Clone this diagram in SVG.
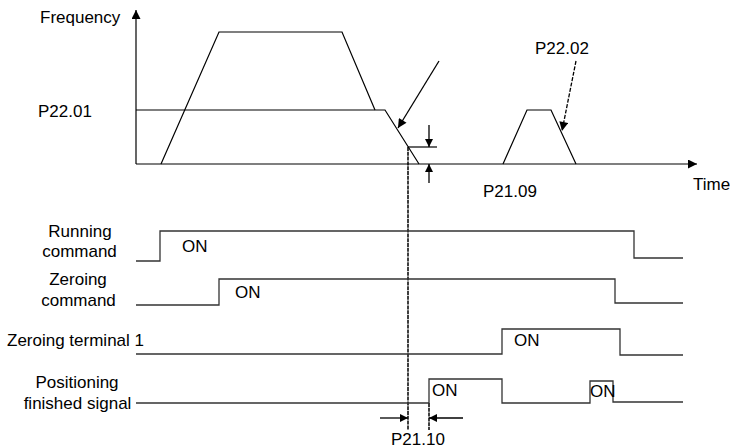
<svg xmlns="http://www.w3.org/2000/svg" width="730" height="448" viewBox="0 0 730 448">
<style>
text{font-family:"Liberation Sans",Arial,sans-serif;font-size:17px;fill:#000}
.ln{fill:none;stroke:#000;stroke-width:1.2}
.sg{fill:none;stroke:#333;stroke-width:1.3}
.dash{fill:none;stroke:#000;stroke-width:1.5;stroke-dasharray:4,0.8}
.arr{fill:none;stroke:#000;stroke-width:1.3}
</style>
<defs>
<marker id="ah" viewBox="0 0 10 10" refX="10" refY="5" markerWidth="12" markerHeight="9" markerUnits="userSpaceOnUse" orient="auto"><path d="M0,0 L10,5 L0,10 z" fill="#000"/></marker>
<marker id="ahs" viewBox="0 0 10 10" refX="10" refY="5" markerWidth="9" markerHeight="8" markerUnits="userSpaceOnUse" orient="auto"><path d="M0,0 L10,5 L0,10 z" fill="#000"/></marker>
</defs>
<rect width="730" height="448" fill="#fff"/>
<g id="axes">
<line class="ln" x1="136" y1="164" x2="136" y2="10" marker-end="url(#ah)"/>
<line class="ln" x1="136" y1="164" x2="697" y2="164" marker-end="url(#ah)"/>
<text x="40" y="23">Frequency</text>
<text x="38" y="117">P22.01</text>
<text x="693" y="190">Time</text>
</g>
<g id="frequency-profile">
<polyline class="ln" points="161,164 219,32 342,32 375,110"/>
<polyline class="ln" points="136,110 385,110 419,164"/>
<polyline class="ln" points="408,147 437,147"/>
<polyline class="ln" points="503,164 527,110 551,110 576,164"/>
</g>
<g id="connectors">
<line class="arr" x1="439" y1="61" x2="398" y2="128" marker-end="url(#ah)"/>
<line class="arr" x1="576" y1="61" x2="562" y2="131" stroke-dasharray="4,1.5" marker-end="url(#ah)"/>
<line class="arr" x1="429" y1="125" x2="429" y2="147" marker-end="url(#ahs)"/>
<line class="arr" x1="429" y1="183" x2="429" y2="164" marker-end="url(#ahs)"/>
<line class="dash" x1="408" y1="147" x2="408" y2="430"/>
<line class="dash" x1="429" y1="403" x2="429" y2="430"/>
<line class="arr" x1="380" y1="418" x2="408" y2="418" marker-end="url(#ahs)"/>
<line class="arr" x1="463" y1="418" x2="429" y2="418" marker-end="url(#ahs)"/>
<text x="535" y="54">P22.02</text>
<text x="483" y="197">P21.09</text>
<text x="391" y="445">P21.10</text>
</g>
<g id="running-command">
<text x="80" y="237" text-anchor="middle">Running</text>
<text x="79.5" y="257" text-anchor="middle">command</text>
<polyline class="sg" points="136,261 160,261 160,231 634,231 634,258 683,258"/>
<text x="182" y="252">ON</text>
</g>
<g id="zeroing-command">
<text x="78" y="285" text-anchor="middle">Zeroing</text>
<text x="78.5" y="306" text-anchor="middle">command</text>
<polyline class="sg" points="136,305 219,305 219,279 615,279 615,303 683,303"/>
<text x="235" y="298">ON</text>
</g>
<g id="zeroing-terminal-1">
<text x="7" y="346">Zeroing terminal 1</text>
<polyline class="sg" points="136,354 502,354 502,329 620,329 620,355 683,355"/>
<text x="514" y="346">ON</text>
</g>
<g id="positioning-finished-signal">
<text x="77" y="388" text-anchor="middle">Positioning</text>
<text x="77.5" y="409" text-anchor="middle">finished signal</text>
<polyline class="sg" points="136,403 429,403 429,379 502,379 502,403 590,403 590,381 613,381 613,402 683,402"/>
<text x="432" y="396">ON</text>
<text x="590" y="397">ON</text>
</g>
</svg>
